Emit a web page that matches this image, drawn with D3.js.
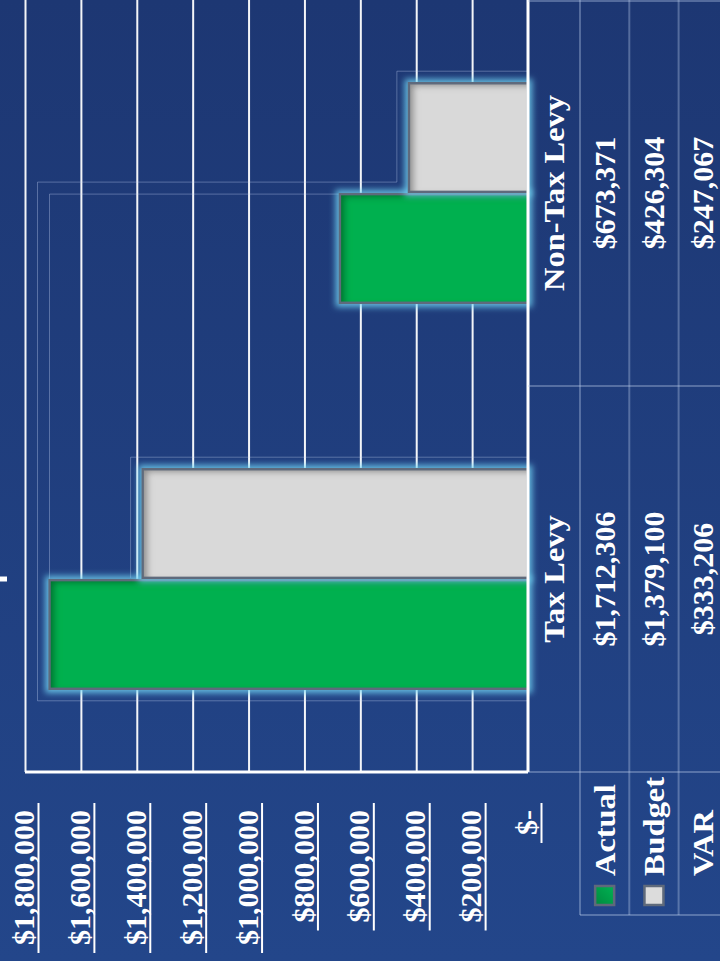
<!DOCTYPE html>
<html>
<head>
<meta charset="utf-8">
<script src="https://cdn.jsdelivr.net/npm/d3@7"></script>
<style>
body { margin: 0; background: #1f3a78; }
svg { display: block; }
text { font-family: "Liberation Serif", "Times New Roman", serif; font-weight: bold; fill: #fff; }
</style>
</head>
<body>
<div id="chart"></div>
<script>
// chart data
const categories = ['Tax Levy', 'Non-Tax Levy'];
const series = ['Actual', 'Budget'];
const actual = [1712306, 673371];
const budget = [1379100, 426304];
const variance = [333206, 247067];
const yTicks = [0, 200000, 400000, 600000, 800000, 1000000, 1200000, 1400000, 1600000, 1800000];

const seriesColor = { Actual: '#00b050', Budget: '#d9d9d9' };
const money = d3.format('$,');
const tickLabel = (d) => d === 0 ? '$-' : money(d);

// the whole chart is drawn as a normal column chart in a 961 x 720 frame, then turned -90deg
const W = 961;
const plot = { left: 189, right: 961, top: 25, bottom: 528 };
const rows = { cat: 554, top: 580, h: 49.3 };
const FONT = 30;
const WORD_STRETCH = 1.08; // the original serif is a bit wider than Liberation

const svg = d3.select('#chart').append('svg')
    .attr('width', 720)
    .attr('height', 961);

const defs = svg.append('defs');
defs.html(`
  <linearGradient id="bg" x1="0" y1="0" x2="0" y2="1">
    <stop offset="0%" stop-color="#1d3773"/>
    <stop offset="100%" stop-color="#23468a"/>
  </linearGradient>
  <linearGradient id="keyGreen" x1="0" y1="0" x2="1" y2="1">
    <stop offset="0%" stop-color="#00893f"/>
    <stop offset="100%" stop-color="#00b353"/>
  </linearGradient>
  <filter id="glow" x="-20%" y="-20%" width="140%" height="140%">
    <feMorphology in="SourceAlpha" operator="dilate" radius="3" result="d"/>
    <feGaussianBlur in="d" stdDeviation="3" result="b"/>
    <feFlood flood-color="#74d8f7" flood-opacity="0.8"/>
    <feComposite in2="b" operator="in" result="g"/>
    <feMerge><feMergeNode in="g"/><feMergeNode in="SourceGraphic"/></feMerge>
  </filter>
  <filter id="inner" x="-20%" y="-20%" width="140%" height="140%">
    <feComponentTransfer in="SourceAlpha" result="inv"><feFuncA type="table" tableValues="1 0"/></feComponentTransfer>
    <feGaussianBlur in="inv" stdDeviation="3"/>
    <feOffset dx="-3" dy="5" result="ob"/>
    <feFlood flood-color="#000" flood-opacity="0.6"/>
    <feComposite in2="ob" operator="in"/>
    <feComposite in2="SourceAlpha" operator="in" result="sh"/>
    <feMerge><feMergeNode in="SourceGraphic"/><feMergeNode in="sh"/></feMerge>
  </filter>
`);

svg.append('rect')
    .attr('width', 720)
    .attr('height', 961)
    .attr('fill', 'url(#bg)');

const g = svg.append('g')
    .attr('transform', `translate(0,${W}) rotate(-90)`);

// scales
const x0 = d3.scaleBand().domain(categories).range([plot.left, plot.right]);
const x1 = d3.scaleBand().domain(series).range([0, x0.bandwidth()])
    .paddingInner(0.02).paddingOuter(0.75);
const y = d3.scaleLinear().domain([0, 1800000]).range([plot.bottom, plot.top]);

// gridlines + tick labels
const axis = g.append('g')
    .attr('transform', `translate(${plot.left},0)`)
    .call(d3.axisLeft(y)
        .tickValues(yTicks)
        .tickSizeInner(-(plot.right - plot.left))
        .tickSizeOuter(0)
        .tickPadding(38)
        .tickFormat(tickLabel));
axis.select('.domain').remove();
axis.selectAll('.tick line')
    .attr('stroke', '#fff')
    .attr('stroke-width', 2)
    .attr('opacity', (d) => d === 0 ? 0 : 0.95);
axis.selectAll('.tick text')
    .attr('y', -1)
    .style('font-size', FONT + 'px')
    .attr('fill', '#fff');
axis.selectAll('.tick').each(function () {
    const t = d3.select(this).select('text');
    const bb = t.node().getBBox();
    d3.select(this).append('line')
        .attr('x1', bb.x - 8)
        .attr('x2', bb.x + bb.width + 7)
        .attr('y1', 13)
        .attr('y2', 13)
        .attr('stroke', '#fff')
        .attr('stroke-width', 2);
});

// faint frame lines left behind the bars
const barU = (ci, s) => x0(categories[ci]) + x1(s);
const bw = x1.bandwidth();
const off = 12;
const frame = g.append('g')
    .attr('fill', 'none')
    .attr('stroke', 'rgba(200,215,245,0.35)')
    .attr('stroke-width', 1);
frame.append('path').attr('d', d3.line()([
    [barU(0, 'Actual') - off, plot.bottom],
    [barU(0, 'Actual') - off, y(actual[0]) - off],
    [barU(1, 'Actual') + bw + off, y(actual[0]) - off],
    [barU(1, 'Actual') + bw + off, y(budget[1]) - off],
    [barU(1, 'Budget') + bw + off, y(budget[1]) - off],
    [barU(1, 'Budget') + bw + off, plot.bottom]
]));
frame.append('path').attr('d', d3.line()([
    [barU(0, 'Budget') + bw + off, plot.bottom],
    [barU(0, 'Budget') + bw + off, y(budget[0]) - off],
    [barU(0, 'Budget'), y(budget[0]) - off]
]));
frame.append('path').attr('d', d3.line()([
    [barU(1, 'Actual') + bw, y(actual[1])],
    [barU(1, 'Actual') + bw, y(actual[0])],
    [barU(0, 'Actual'), y(actual[0])]
]));

// bars
const barData = [];
categories.forEach((c, i) => {
    barData.push({ cat: c, s: 'Actual', v: actual[i] });
    barData.push({ cat: c, s: 'Budget', v: budget[i] });
});
const bars = g.append('g').selectAll('g')
    .data(barData)
    .join('g')
    .attr('filter', 'url(#glow)');
bars.append('rect')
    .attr('x', (d) => x0(d.cat) + x1(d.s))
    .attr('y', (d) => y(d.v))
    .attr('width', bw)
    .attr('height', (d) => y(0) - y(d.v))
    .attr('fill', (d) => seriesColor[d.s])
    .attr('filter', 'url(#inner)');
bars.append('rect')
    .attr('x', (d) => x0(d.cat) + x1(d.s))
    .attr('y', (d) => y(d.v))
    .attr('width', bw)
    .attr('height', (d) => y(0) - y(d.v))
    .attr('fill', 'none')
    .attr('stroke', '#5f6a7b')
    .attr('stroke-width', 2.5);

// axis lines
g.append('line')
    .attr('x1', plot.left).attr('x2', plot.right)
    .attr('y1', plot.bottom).attr('y2', plot.bottom)
    .attr('stroke', '#fff').attr('stroke-width', 3);
g.append('line')
    .attr('x1', plot.left).attr('x2', plot.left)
    .attr('y1', plot.top).attr('y2', plot.bottom)
    .attr('stroke', '#fff').attr('stroke-width', 3);

// little mark at the far edge
g.append('rect')
    .attr('x', x0(categories[0]) + x0.bandwidth() / 2 - 2.5)
    .attr('y', 0)
    .attr('width', 5)
    .attr('height', 7)
    .attr('fill', '#fff');

// data table
const tableRows = [
    { label: 'Actual', values: actual, key: 'url(#keyGreen)' },
    { label: 'Budget', values: budget, key: '#dcdcdc' },
    { label: 'VAR', values: variance, key: null }
];
const rowCenter = (i) => rows.top + rows.h * i + rows.h / 2;
const headLeft = 46;
const tableLine = 'rgba(190,205,235,0.35)';

const table = g.append('g');
const tl = table.append('g').attr('stroke', tableLine).attr('stroke-width', 2);
[0, 1, 2].forEach((i) => {
    tl.append('line')
        .attr('x1', headLeft).attr('x2', plot.right)
        .attr('y1', rows.top + rows.h * i).attr('y2', rows.top + rows.h * i);
});
[plot.left, x0(categories[1]), plot.right - 1].forEach((u) => {
    tl.append('line')
        .attr('x1', u).attr('x2', u)
        .attr('y1', plot.bottom).attr('y2', 730);
});
tl.append('line')
    .attr('x1', headLeft).attr('x2', headLeft)
    .attr('y1', rows.top).attr('y2', 730);

// category names
table.selectAll('text.cat')
    .data(categories)
    .join('text')
    .attr('class', 'cat')
    .attr('transform', (d) => `translate(${x0(d) + x0.bandwidth() / 2},${rows.cat}) scale(${WORD_STRETCH},1)`)
    .attr('dy', '0.34em')
    .attr('text-anchor', 'middle')
    .style('font-size', FONT + 'px')
    .text((d) => d);

// values and row headers
tableRows.forEach((r, i) => {
    const cy = rowCenter(i);
    table.selectAll(null)
        .data(r.values)
        .join('text')
        .attr('x', (d, j) => x0(categories[j]) + x0.bandwidth() / 2)
        .attr('y', cy)
        .attr('dy', '0.34em')
        .attr('text-anchor', 'middle')
        .style('font-size', FONT + 'px')
        .text((d) => money(d));
    if (r.key) {
        table.append('rect')
            .attr('x', 56)
            .attr('y', cy - 9.5)
            .attr('width', 19)
            .attr('height', 19)
            .attr('fill', r.key)
            .attr('stroke', '#5f6a7b')
            .attr('stroke-width', 2.5);
    }
    table.append('text')
        .attr('transform', `translate(85,${cy}) scale(${WORD_STRETCH},1)`)
        .attr('dy', '0.34em')
        .style('font-size', FONT + 'px')
        .text(r.label);
});
</script>
</body>
</html>
